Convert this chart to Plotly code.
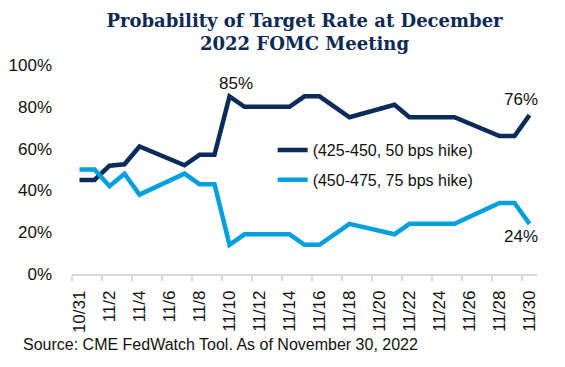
import plotly.graph_objects as go

# Data
dates = ["2022-10-31", "2022-11-01", "2022-11-02", "2022-11-03", "2022-11-04",
         "2022-11-07", "2022-11-08", "2022-11-09", "2022-11-10", "2022-11-11",
         "2022-11-14", "2022-11-15", "2022-11-16", "2022-11-17", "2022-11-18",
         "2022-11-21", "2022-11-22", "2022-11-23", "2022-11-25",
         "2022-11-28", "2022-11-29", "2022-11-30"]
hike_50 = [45, 45, 51.8, 52.5, 61, 52, 57, 57, 85, 80, 80, 85, 85, 80, 75,
           81, 75, 75, 75, 66, 66, 76]
hike_75 = [50, 50, 42, 48, 38, 48, 43, 43, 14, 19, 19, 14, 14, 19, 24,
           19, 24, 24, 24, 34, 34, 24]
series_names = ["(425-450, 50 bps hike)", "(450-475, 75 bps hike)"]
tick_dates = ["2022-10-31", "2022-11-02", "2022-11-04", "2022-11-06", "2022-11-08",
              "2022-11-10", "2022-11-12", "2022-11-14", "2022-11-16", "2022-11-18",
              "2022-11-20", "2022-11-22", "2022-11-24", "2022-11-26", "2022-11-28",
              "2022-11-30"]
y_ticks = [0, 20, 40, 60, 80, 100]
y_tick_text = [f"{v}%" for v in y_ticks]

NAVY = "#0b2b5a"
BLUE = "#00a0df"
FONT = "Liberation Sans, Arial, sans-serif"

fig = go.Figure()
fig.add_trace(go.Scatter(x=dates, y=hike_50, mode="lines", name=series_names[0],
                         legendgroup="a", line=dict(color=NAVY, width=4.5)))
fig.add_trace(go.Scatter(x=dates, y=hike_75, mode="lines", name=series_names[1],
                         legendgroup="b", line=dict(color=BLUE, width=4.5)))

# value labels
fig.add_annotation(x=dates[8], y=hike_50[8], text=f"{hike_50[8]:.0f}%", showarrow=False,
                   xshift=6, yshift=13, font=dict(size=17, color="#111111", family=FONT))
fig.add_annotation(x=dates[-1], y=hike_50[-1], text=f"{hike_50[-1]:.0f}%", showarrow=False,
                   xshift=-9, yshift=16, font=dict(size=17, color="#111111", family=FONT))
fig.add_annotation(x=dates[-1], y=hike_75[-1], text=f"{hike_75[-1]:.0f}%", showarrow=False,
                   xshift=-9, yshift=-13, font=dict(size=17, color="#111111", family=FONT))

fig.add_annotation(xref="paper", yref="paper", x=-0.11, y=-0.335, xanchor="left",
                   yanchor="middle", showarrow=False,
                   text="Source: CME FedWatch Tool. As of November 30, 2022",
                   font=dict(size=16, color="#111111", family=FONT))

fig.update_layout(
    width=557, height=359,
    margin=dict(l=64, r=28, t=57, b=93),
    paper_bgcolor="white", plot_bgcolor="white",
    font=dict(family=FONT, size=16, color="#111111"),
    title=dict(text="Probability of Target Rate at December<br>2022 FOMC Meeting",
               x=0.5, xref="paper", xanchor="center", y=0.948, yref="container",
               yanchor="top",
               font=dict(family="DejaVu Serif, serif", size=18, color="#0d2a55",
                         weight="bold")),
    showlegend=True,
    legend=dict(x=0.4315, y=0.674, xanchor="left", yanchor="top",
                bgcolor="rgba(0,0,0,0)", tracegroupgap=6,
                font=dict(size=16, family=FONT, color="#111111")),
    xaxis=dict(type="date", range=["2022-10-30 12:00", "2022-11-30 12:00"],
               tickvals=tick_dates, tickformat="%-m/%-d", tickangle=-90,
               ticks="", ticklabelstandoff=8, automargin=False,
               tickfont=dict(size=17, family=FONT, color="#111111"),
               showline=True, linecolor="#d9d9d9", linewidth=1.5,
               showgrid=False, zeroline=False,
               minor=dict(ticks="outside", ticklen=5, tickcolor="#d9d9d9",
                          tickwidth=1.5, tick0="2022-10-30 12:00",
                          dtick=2 * 86400000, showgrid=False)),
    yaxis=dict(range=[0, 100], tickvals=y_ticks, ticktext=y_tick_text,
               showgrid=False, zeroline=False, showline=False, automargin=False,
               ticks="", ticklabelstandoff=19,
               tickfont=dict(size=17, family=FONT, color="#111111")),
)

fig.write_html("out.html")
